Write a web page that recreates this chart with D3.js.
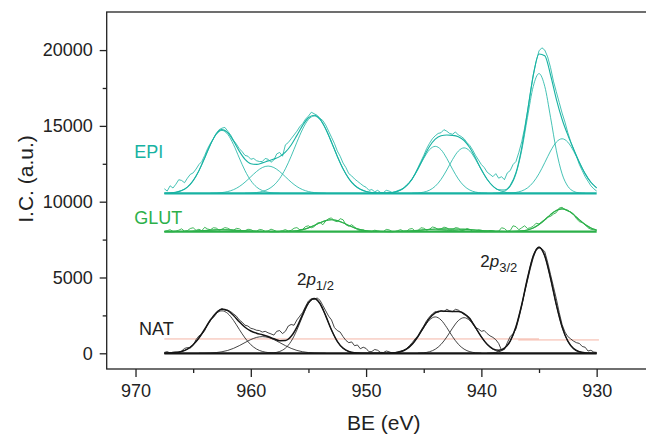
<!DOCTYPE html>
<html>
<head>
<meta charset="utf-8">
<script src="https://cdn.jsdelivr.net/npm/d3@7"></script>
<style>
  html, body { margin: 0; padding: 0; background: #fff; }
  svg { display: block; font-family: "Liberation Sans", Arial, sans-serif; }
</style>
</head>
<body>
<div id="chart"></div>
<script>
// Binding energy grid (eV): spectra start at 967.5 eV and run down to 930 eV
const beStart = 967.5;
const rawStep = 0.25;   // measured channels
const fitStep = 0.5;    // fitted curves

// Vertical stacking offsets of the three spectra
const natOffset = 0;
const glutOffset = 8030;
const epiOffset = 10550;

// NAT: measured counts (0.25 eV) and fitted envelope (0.5 eV)
const natRaw = [60, 110, 20, 80, 90, 40, 150, 320, 380, 350,
  520, 900, 1150, 1250, 1500, 1950, 2250, 2350, 2600, 2850,
  2950, 2850, 2850, 2750, 2600, 2450, 2200, 2050, 1850, 1800,
  1650, 1600, 1520, 1500, 1400, 1450, 1350, 1280, 1200, 1450,
  1500, 1300, 1450, 1800, 1900, 1850, 2200, 2450, 2700, 3100,
  3450, 3600, 3550, 3650, 3500, 3150, 2800, 2450, 2200, 1700,
  1500, 1400, 1100, 850, 700, 750, 500, 550, 300, 400,
  320, 100, 120, 250, 200, 60, 50, 150, 100, 20,
  40, 90, 150, 200, 300, 500, 700, 950, 1150, 1500,
  1800, 2150, 2400, 2600, 2750, 2700, 2800, 2750, 2900, 2800,
  2750, 2900, 2850, 2700, 2550, 2500, 2350, 2000, 1700, 1600,
  1450, 1500, 1300, 1150, 1050, 900, 650, 200, 250, 700,
  1100, 1300, 1600, 2300, 3100, 4000, 4800, 5600, 6300, 6800,
  6950, 6900, 6700, 6000, 5200, 4400, 3600, 2700, 1900, 1400,
  1100, 950, 800, 700, 650, 450, 400, 150, 200, 80,
  60];
const natFit = [5, 16, 48, 123, 281, 569, 1011, 1584, 2191, 2674,
  2901, 2815, 2495, 2080, 1716, 1473, 1327, 1223, 1104, 956,
  832, 842, 1117, 1726, 2567, 3324, 3621, 3284, 2469, 1537,
  792, 338, 119, 35, 9, 2, 0, 0, 2, 9,
  34, 106, 274, 600, 1108, 1730, 2304, 2668, 2786, 2773,
  2760, 2753, 2624, 2261, 1695, 1085, 593, 295, 202, 341,
  807, 1745, 3206, 4949, 6419, 7000, 6419, 4949, 3206, 1743,
  798, 308, 99, 27, 6, 1];
// fitted components: [first BE, values every 0.5 eV]
const natPeaks = [
  [967.5, [5, 16, 48, 123, 280, 568, 1008, 1576, 2170, 2626, 2800, 2626, 2170, 1576, 1008, 568, 280, 123, 48, 16, 5]],
  [964.5, [3, 8, 21, 48, 101, 189, 325, 504, 708, 905, 1047, 1100, 1047, 905, 708, 504, 325, 189, 101, 48, 21, 8, 3]],
  [958.5, [9, 35, 119, 338, 792, 1537, 2466, 3276, 3600, 3276, 2466, 1537, 792, 338, 119, 35, 9]],
  [948.0, [9, 34, 106, 274, 598, 1099, 1697, 2201, 2400, 2201, 1697, 1099, 598, 274, 106, 34, 9]],
  [945.5, [9, 33, 103, 268, 585, 1076, 1661, 2155, 2350, 2155, 1661, 1076, 585, 268, 103, 33, 9]],
  [939.5, [6, 27, 99, 308, 798, 1743, 3206, 4949, 6419, 7000, 6419, 4949, 3206, 1743, 798, 308, 99, 27, 6]]
];
// background line under NAT: [BE, counts]
const natBackA = [[967.5, 945], [935.0, 945]];
const natBackB = [[936.8, 880], [929.8, 880]];

// GLUT
const glutRaw = [0, 60, 120, 10, 30, 90, 180, 20, 60, 200,
  250, 80, 150, 60, 280, 170, 120, 250, 230, 90,
  160, 260, 220, 120, 80, 210, 180, 40, 60, 150,
  130, 30, 20, 140, 110, 10, 40, 160, 90, 0,
  10, 60, 130, 30, 80, 220, 260, 120, 150, 330,
  380, 250, 320, 550, 600, 450, 700, 850, 900, 700,
  650, 850, 780, 450, 350, 450, 300, 120, 60, 100,
  30, 0, 0, 90, 40, 0, 0, 140, 110, 0,
  0, 60, 130, 10, 20, 160, 200, 40, 60, 250,
  220, 100, 150, 300, 260, 130, 170, 290, 250, 100,
  120, 260, 230, 60, 90, 200, 140, 20, 30, 110,
  90, 0, 0, 70, 60, 0, 20, 250, 200, 30,
  60, 380, 320, 120, 250, 380, 200, 250, 350, 550,
  500, 650, 800, 950, 1000, 1150, 1250, 1550, 1600, 1450,
  1350, 1300, 1150, 850, 650, 600, 450, 250, 150, 120,
  60];
const glutFit = [0, 1, 2, 5, 12, 24, 43, 68, 93, 113,
  120, 113, 93, 68, 43, 24, 12, 5, 2, 1,
  2, 7, 21, 54, 122, 239, 401, 580, 725, 780,
  725, 580, 401, 239, 122, 54, 21, 7, 2, 1,
  4, 10, 24, 46, 78, 115, 148, 170, 179, 179,
  174, 167, 154, 131, 101, 67, 40, 20, 9, 4,
  4, 13, 40, 105, 236, 459, 771, 1116, 1394, 1500,
  1394, 1116, 771, 459, 236, 105];
const glutPeaks = [
  [966.5, [2, 5, 12, 24, 43, 68, 93, 113, 120, 113, 93, 68, 43, 24, 12, 5, 2]],
  [957.5, [2, 7, 21, 54, 122, 239, 401, 580, 725, 780, 725, 580, 401, 239, 122, 54, 21, 7, 2]],
  [947.5, [4, 10, 24, 46, 77, 112, 139, 150, 139, 112, 77, 46, 24, 10, 4]],
  [945.0, [3, 9, 20, 40, 67, 97, 121, 130, 121, 97, 67, 40, 20, 9, 3]],
  [937.5, [4, 13, 40, 105, 236, 459, 771, 1116, 1394, 1500, 1394, 1116, 771, 459, 236, 105]]
];

// EPI
const epiRaw = [300, 150, 500, 350, 600, 900, 850, 700, 1000, 1250,
  1350, 1600, 1900, 2100, 2500, 2950, 3300, 3600, 3950, 4200,
  4300, 4350, 4100, 3850, 3500, 3250, 2950, 2750, 2500, 2450,
  2250, 2300, 2150, 2100, 2100, 2300, 2250, 2050, 2200, 2600,
  2700, 2450, 3200, 3350, 3600, 3850, 4100, 4400, 4600, 4900,
  5100, 5350, 5250, 5150, 4950, 4800, 4500, 4100, 3700, 3300,
  2800, 2450, 2000, 1700, 1300, 1150, 950, 800, 650, 500,
  400, 200, 250, 100, 200, 60, 50, 200, 150, 60,
  100, 180, 250, 350, 550, 700, 950, 1300, 1700, 2100,
  2500, 2950, 3300, 3600, 3800, 3950, 4000, 4200, 4100, 3950,
  3900, 4050, 3850, 3750, 3600, 3350, 3150, 2850, 2500, 2200,
  1900, 1700, 1400, 1250, 1100, 1300, 1000, 1100, 900, 1350,
  1500, 1900, 2100, 2700, 3400, 4300, 5400, 6600, 7800, 8700,
  9400, 9600, 9450, 9000, 8300, 7400, 6700, 6000, 5300, 4700,
  4000, 3400, 2900, 2450, 1900, 1500, 1100, 800, 500, 300,
  150];
const epiFit = [7, 24, 71, 183, 415, 842, 1495, 2338, 3223, 3913,
  4201, 4011, 3459, 2784, 2241, 1955, 1909, 2010, 2141, 2263,
  2423, 2712, 3188, 3824, 4486, 4989, 5151, 4891, 4250, 3376,
  2448, 1617, 974, 536, 270, 124, 52, 22, 15, 29,
  83, 216, 489, 957, 1619, 2386, 3089, 3571, 3798, 3848,
  3825, 3736, 3487, 3003, 2315, 1569, 927, 479, 241, 220,
  512, 1357, 3004, 5377, 7786, 9196, 9082, 7807, 6221, 4888,
  3842, 2924, 2058, 1302, 731, 360];
const epiPeaks = [
  [967.5, [7, 24, 71, 183, 415, 842, 1494, 2336, 3216, 3893, 4150, 3893, 3216, 2336, 1494, 842, 415, 183, 71, 24, 7]],
  [963.5, [7, 20, 51, 118, 243, 448, 740, 1093, 1442, 1703, 1800, 1703, 1442, 1093, 740, 448, 243, 118, 51, 20, 7]],
  [960.5, [7, 20, 52, 124, 270, 536, 974, 1617, 2448, 3376, 4243, 4871, 5100, 4871, 4243, 3376, 2448, 1617, 974, 536, 270, 124, 52, 20, 7]],
  [948.5, [8, 27, 83, 216, 487, 949, 1593, 2306, 2880, 3100, 2880, 2306, 1593, 949, 487, 216, 83, 27, 8]],
  [946.0, [8, 26, 80, 209, 471, 918, 1542, 2232, 2787, 3000, 2787, 2232, 1542, 918, 471, 209, 80, 26, 8]],
  [939.0, [6, 31, 134, 465, 1288, 2844, 5017, 7055, 7900, 7055, 5017, 2844, 1288, 465, 134, 31, 6]],
  [938.0, [7, 21, 61, 158, 360, 731, 1296, 2027, 2790, 3377, 3600, 3377, 2790, 2027, 1296, 731, 360]]
];

// axis ticks
const xMajor = [970, 960, 950, 940, 930];
const xMinor = [965, 955, 945, 935];
const yMajor = [0, 5000, 10000, 15000, 20000];
const yMinor = [2500, 7500, 12500, 17500];

const width = 646, height = 435;
const plotLeft = 106.7, plotRight = 654.3, plotTop = 12, plotBottom = 369;

const svg = d3.select('#chart').append('svg')
  .attr('width', width)
  .attr('height', height);

const x = d3.scaleLinear().domain([972.5, 925]).range([plotLeft, plotRight]);
const y = d3.scaleLinear().domain([-1036, 22512]).range([plotBottom, plotTop]);

const teal = '#17b2a2';
const green = '#2cb04a';
const black = '#151515';

// series -> points
function onGrid(values, step, offset) {
  return values.map((v, i) => [beStart - i * step, v + offset]);
}
function peakPoints(peak, offset) {
  return peak[1].map((v, i) => [peak[0] - i * fitStep, v + offset]);
}

const smooth = d3.line().x(d => x(d[0])).y(d => y(d[1])).curve(d3.curveMonotoneX);
const jagged = d3.line().x(d => x(d[0])).y(d => y(d[1]));

function drawSpectrum(raw, fit, peaks, offset, color, rawW, fitW) {
  const g = svg.append('g');
  // baseline
  g.append('path')
    .attr('d', jagged([[beStart, offset], [930, offset]]))
    .attr('fill', 'none').attr('stroke', color).attr('stroke-width', 2.2);
  peaks.forEach(p => {
    g.append('path')
      .attr('d', smooth(peakPoints(p, offset)))
      .attr('fill', 'none').attr('stroke', color).attr('stroke-width', 0.8);
  });
  g.append('path')
    .attr('d', smooth(onGrid(fit, fitStep, offset)))
    .attr('fill', 'none').attr('stroke', color).attr('stroke-width', fitW);
  g.append('path')
    .attr('d', jagged(onGrid(raw, rawStep, offset)))
    .attr('fill', 'none').attr('stroke', color).attr('stroke-width', rawW)
    .attr('stroke-linejoin', 'round');
}

// pink background of NAT
[natBackA, natBackB].forEach(b => {
  svg.append('path')
    .attr('d', jagged(b.map(d => [d[0], d[1] + natOffset])))
    .attr('fill', 'none').attr('stroke', '#f5b5a5').attr('stroke-width', 1);
});

drawSpectrum(natRaw, natFit, natPeaks, natOffset, black, 0.8, 1.5);
drawSpectrum(glutRaw, glutFit, glutPeaks, glutOffset, green, 0.9, 1.2);
drawSpectrum(epiRaw, epiFit, epiPeaks, epiOffset, teal, 0.8, 1.1);

// frame
svg.append('rect')
  .attr('x', plotLeft).attr('y', plotTop)
  .attr('width', plotRight - plotLeft).attr('height', plotBottom - plotTop)
  .attr('fill', 'none').attr('stroke', '#222').attr('stroke-width', 1.3);

// Axes
svg.append('g').attr('transform', 'translate(0,' + plotBottom + ')')
  .call(d3.axisBottom(x).tickValues(xMajor).tickSize(8).tickSizeOuter(0).tickPadding(7).tickFormat(d3.format('d')));
svg.append('g').attr('transform', 'translate(0,' + plotBottom + ')')
  .call(d3.axisBottom(x).tickValues(xMinor).tickSize(4).tickSizeOuter(0).tickFormat(''));
svg.append('g').attr('transform', 'translate(' + plotLeft + ',0)')
  .call(d3.axisLeft(y).tickValues(yMajor).tickSize(7).tickSizeOuter(0).tickPadding(7).tickFormat(d3.format('d')));
svg.append('g').attr('transform', 'translate(' + plotLeft + ',0)')
  .call(d3.axisLeft(y).tickValues(yMinor).tickSize(4).tickSizeOuter(0).tickFormat(''));

svg.selectAll('.domain').remove();
svg.selectAll('.tick line').attr('stroke', '#222').attr('stroke-width', 1.3);
svg.selectAll('.tick text').attr('font-size', 18).attr('fill', '#222')
  .attr('font-family', '"Liberation Sans", Arial, sans-serif');

// Axis titles
svg.append('text')
  .attr('x', 383.7).attr('y', 430)
  .attr('text-anchor', 'middle').attr('font-size', 21).attr('fill', '#222')
  .text('BE (eV)');
svg.append('text')
  .attr('transform', 'translate(33,179) rotate(-90)')
  .attr('text-anchor', 'middle').attr('font-size', 21).attr('fill', '#222')
  .text('I.C. (a.u.)');

// Series labels
svg.append('text').attr('x', x(970.1)).attr('y', y(12880))
  .attr('font-size', 18).attr('fill', teal).text('EPI');
svg.append('text').attr('x', x(970.1)).attr('y', y(8530))
  .attr('font-size', 18).attr('fill', green).text('GLUT');
svg.append('text').attr('x', x(969.7)).attr('y', y(1207))
  .attr('font-size', 18).attr('fill', '#222').text('NAT');

// Peak labels
function orbital(be, val, sub) {
  const t = svg.append('text').attr('x', x(be)).attr('y', y(val))
    .attr('font-size', 17).attr('fill', '#222');
  t.append('tspan').text('2');
  t.append('tspan').attr('font-style', 'italic').text('p');
  t.append('tspan').attr('font-size', 13).attr('dy', 5).text(sub);
}
orbital(956.0, 4505, '1/2');
orbital(940.1, 5712, '3/2');
</script>
</body>
</html>
